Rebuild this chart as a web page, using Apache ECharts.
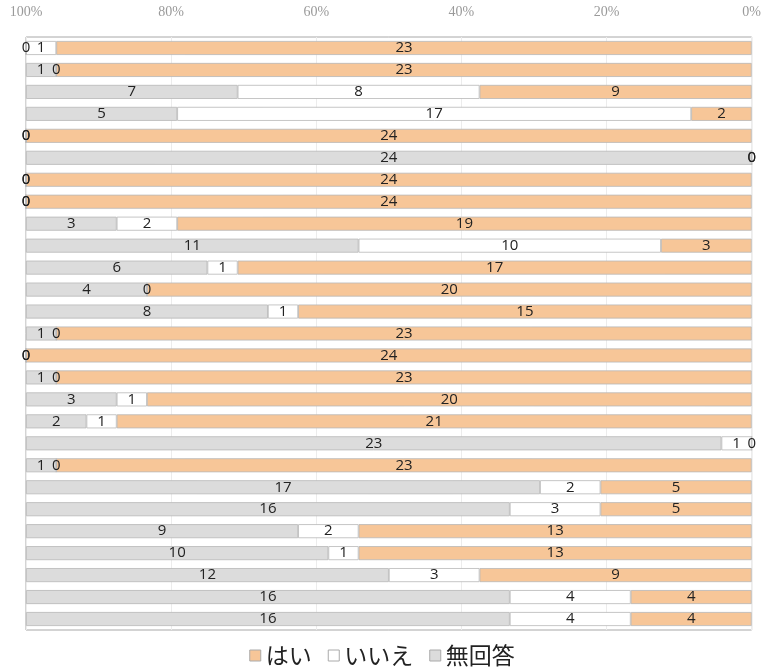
<!DOCTYPE html>
<html><head><meta charset="utf-8">
<script src="https://cdn.jsdelivr.net/npm/echarts@6/dist/echarts.min.js"></script>
<style>html,body{margin:0;padding:0;background:#fff}#c{width:764px;height:672px}</style>
</head><body><div id="c"></div>
<script>
const seriesNames = ['はい', 'いいえ', '無回答'];
const hai    = [23,23,9,2,24,0,24,24,19,3,17,20,15,23,24,23,20,21,0,23,5,5,13,13,9,4,4];
const iie    = [1,0,8,17,0,0,0,0,2,10,1,0,1,0,0,0,1,1,1,0,2,3,2,1,3,4,4];
const mukaitou = [0,1,7,5,0,24,0,0,3,11,6,4,8,1,0,1,3,2,23,1,17,16,9,10,12,16,16];
const tickLabels = ['0%','20%','40%','60%','80%','100%'];
const categories = hai.map((_, i) => 'Q' + (i + 1));
const totals = hai.map((v, i) => v + iie[i] + mukaitou[i]);
const toPct = arr => arr.map((v, i) => ({ value: v / totals[i] * 100, count: v }));

const colors = ['#F7C698', '#FFFFFF', '#DCDCDC'];
const labelStyle = {
  show: true, position: 'inside', color: '#222',
  fontFamily: 'Open Sans', fontSize: 15,
  formatter: p => String(p.data.count)
};
const mk = (name, arr, idx) => ({
  name, type: 'bar', stack: 'all', data: toPct(arr), barWidth: 14, clip: false,
  itemStyle: { color: colors[idx], borderColor: '#B8B8B8', borderWidth: 0.8 },
  label: labelStyle, emphasis: { disabled: true }
});

const chart = echarts.init(document.getElementById('c'));
chart.setOption({
  animation: false,
  grid: { left: 26, right: 10, top: 37, bottom: 42, show: true, borderColor: '#A8A8A8', borderWidth: 1, backgroundColor: 'transparent' },
  legend: {
    bottom: 0, left: 'center', icon: 'rect', itemWidth: 11, itemHeight: 11, itemGap: 16,
    textStyle: { fontSize: 23, color: '#222', fontFamily: 'Noto Sans CJK JP' },
    itemStyle: { borderColor: '#AAA', borderWidth: 1 },
    data: seriesNames
  },
  xAxis: {
    type: 'value', min: 0, max: 100, interval: 20, inverse: true, position: 'top',
    axisLine: { show: false }, axisTick: { show: false },
    splitLine: { show: true, lineStyle: { color: '#ECECEC', width: 1 } },
    axisLabel: { margin: 18, color: '#9A9A9A', fontSize: 14, fontFamily: 'Liberation Serif',
      formatter: v => tickLabels[Math.round(v / 20)] }
  },
  yAxis: {
    type: 'category', data: categories, inverse: true,
    axisLine: { show: false }, axisTick: { show: false }, axisLabel: { show: false }
  },
  series: [mk(seriesNames[0], hai, 0), mk(seriesNames[1], iie, 1), mk(seriesNames[2], mukaitou, 2)]
});
</script></body></html>
